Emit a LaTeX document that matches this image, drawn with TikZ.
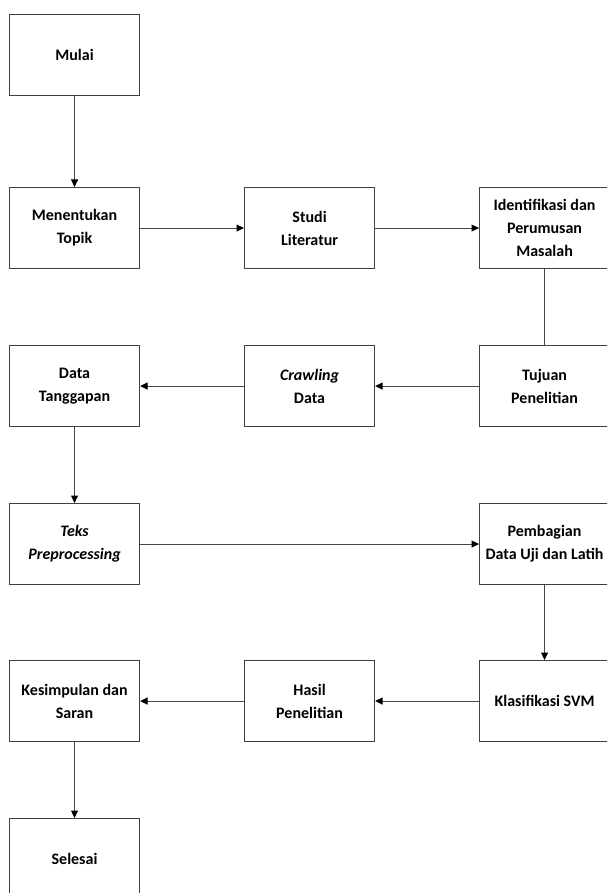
\documentclass[tikz,border=0pt]{standalone}
\usepackage{fontspec}
\setmainfont{Carlito}
\usetikzlibrary{arrows.meta}
\begin{document}
\begin{tikzpicture}[x=1pt,y=-1pt,
  box/.style={draw=black!75,line width=1.1pt,fill=white,minimum width=130pt,minimum height=81pt,
    inner sep=0pt,align=center,font=\fontsize{16}{23}\selectfont\bfseries,anchor=north west},
  conn/.style={draw=black!72,line width=1pt},
  arr/.style={conn,-{Triangle[length=7.5pt,width=7pt,color=black]}}]
\useasboundingbox[fill=white] (0,0) rectangle (607,893);
\begin{scope}
\clip (0,0) rectangle (607,893);
\node[box] (mulai) at (9,14) {Mulai};
\node[box] (topik) at (9,187) {Menentukan\\Topik};
\node[box] (studi) at (244,187) {Studi\\Literatur};
\node[box] (ident) at (479,187) {Identifikasi dan\\Perumusan\\Masalah};
\node[box] (tanggapan) at (9,345) {Data\\Tanggapan};
\node[box] (crawl) at (244,345) {\textit{Crawling}\\Data};
\node[box] (tujuan) at (479,345) {Tujuan\\Penelitian};
\node[box] (teks) at (9,503) {\textit{Teks}\\\textit{Preprocessing}};
\node[box] (bagi) at (479,503) {Pembagian\\Data Uji dan Latih};
\node[box] (simpul) at (9,660) {Kesimpulan dan\\Saran};
\node[box] (hasil) at (244,660) {Hasil\\Penelitian};
\node[box] (svm) at (479,660) {Klasifikasi SVM};
\node[box] (selesai) at (9,818) {Selesai};
\end{scope}
\draw[arr] (mulai) -- (topik);
\draw[arr] (topik) -- (studi);
\draw[arr] (studi) -- (ident);
\draw[conn] (ident) -- (tujuan);
\draw[arr] (tujuan) -- (crawl);
\draw[arr] (crawl) -- (tanggapan);
\draw[arr] (tanggapan) -- (teks);
\draw[arr] (teks) -- (bagi);
\draw[arr] (bagi) -- (svm);
\draw[arr] (svm) -- (hasil);
\draw[arr] (hasil) -- (simpul);
\draw[arr] (simpul) -- (selesai);
\end{tikzpicture}
\end{document}
